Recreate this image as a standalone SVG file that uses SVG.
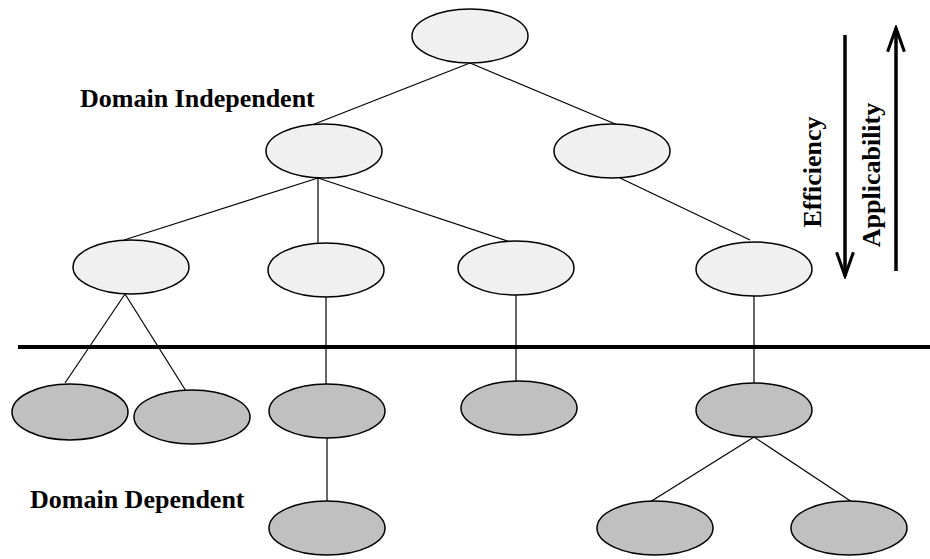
<svg xmlns="http://www.w3.org/2000/svg" width="930" height="559" viewBox="0 0 930 559">
  <style>
    .gen { fill: #f0f0f0; stroke: #000; stroke-width: 1.5; }
    .spec { fill: #c0c0c0; stroke: #000; stroke-width: 1.5; }
    .edge { stroke: #000; stroke-width: 1.2; fill: none; }
    .label { font-family: "Liberation Serif", "Times New Roman", serif; font-weight: bold; font-size: 26px; fill: #000; }
    .axis { stroke: #000; stroke-width: 3.5; fill: none; }
  </style>
  <defs>
    <marker id="head" viewBox="0 0 20 20" refX="18" refY="10" markerWidth="8" markerHeight="8" markerUnits="strokeWidth" orient="auto">
      <path d="M1,4 L18,10 L1,16" fill="none" stroke="#000" stroke-width="2.2"/>
    </marker>
  </defs>
  <rect width="930" height="559" fill="#fff"/>

  <g id="connectors">
    <line class="edge" x1="470" y1="63" x2="312" y2="125"/>
    <line class="edge" x1="470" y1="63" x2="620" y2="126"/>
    <line class="edge" x1="318" y1="178" x2="124" y2="240"/>
    <line class="edge" x1="318" y1="178" x2="318" y2="248"/>
    <line class="edge" x1="318" y1="178" x2="510" y2="242"/>
    <line class="edge" x1="620" y1="178" x2="750" y2="240"/>
    <line class="edge" x1="125" y1="294" x2="65" y2="383"/>
    <line class="edge" x1="125" y1="294" x2="186" y2="391"/>
    <line class="edge" x1="326" y1="297" x2="326" y2="384"/>
    <line class="edge" x1="516" y1="295" x2="516" y2="381"/>
    <line class="edge" x1="754" y1="296" x2="754" y2="383"/>
    <line class="edge" x1="327" y1="438" x2="327" y2="501"/>
    <line class="edge" x1="754" y1="437" x2="650" y2="502"/>
    <line class="edge" x1="754" y1="437" x2="852" y2="502"/>
  </g>

  <!-- boundary between the two groups -->
  <line id="divider" x1="18" y1="347" x2="930" y2="347" stroke="#000" stroke-width="4"/>

  <g id="n-root"><ellipse class="gen" cx="470" cy="36" rx="58" ry="27"/></g>
  <g id="n-a"><ellipse class="gen" cx="324" cy="151" rx="58" ry="27"/></g>
  <g id="n-b"><ellipse class="gen" cx="612" cy="151" rx="58" ry="27"/></g>
  <g id="n-a1"><ellipse class="gen" cx="131" cy="267" rx="58" ry="27"/></g>
  <g id="n-a2"><ellipse class="gen" cx="326" cy="270" rx="58" ry="27"/></g>
  <g id="n-a3"><ellipse class="gen" cx="516" cy="268" rx="58" ry="27"/></g>
  <g id="n-b1"><ellipse class="gen" cx="754" cy="269" rx="58" ry="27"/></g>

  <g id="s-1"><ellipse class="spec" cx="70" cy="412" rx="58" ry="28"/></g>
  <g id="s-2"><ellipse class="spec" cx="192" cy="417" rx="58" ry="27"/></g>
  <g id="s-3"><ellipse class="spec" cx="327" cy="411" rx="58" ry="27"/></g>
  <g id="s-4"><ellipse class="spec" cx="519" cy="408" rx="58" ry="27"/></g>
  <g id="s-5"><ellipse class="spec" cx="754" cy="410" rx="58" ry="27"/></g>
  <g id="s-6"><ellipse class="spec" cx="327" cy="528" rx="58" ry="27"/></g>
  <g id="s-7"><ellipse class="spec" cx="655" cy="528" rx="58" ry="27"/></g>
  <g id="s-8"><ellipse class="spec" cx="849" cy="528" rx="58" ry="27"/></g>

  <text class="label" x="80" y="107">Domain Independent</text>
  <text class="label" x="30" y="508">Domain Dependent</text>

  <g id="axes">
    <line class="axis" x1="845" y1="35" x2="845" y2="276" marker-end="url(#head)"/>
    <line class="axis" x1="896" y1="271" x2="896" y2="28" marker-end="url(#head)"/>
    <text class="label" transform="translate(821,172) rotate(-90)" text-anchor="middle">Efficiency</text>
    <text class="label" transform="translate(880,175) rotate(-90)" text-anchor="middle">Applicability</text>
  </g>
</svg>
